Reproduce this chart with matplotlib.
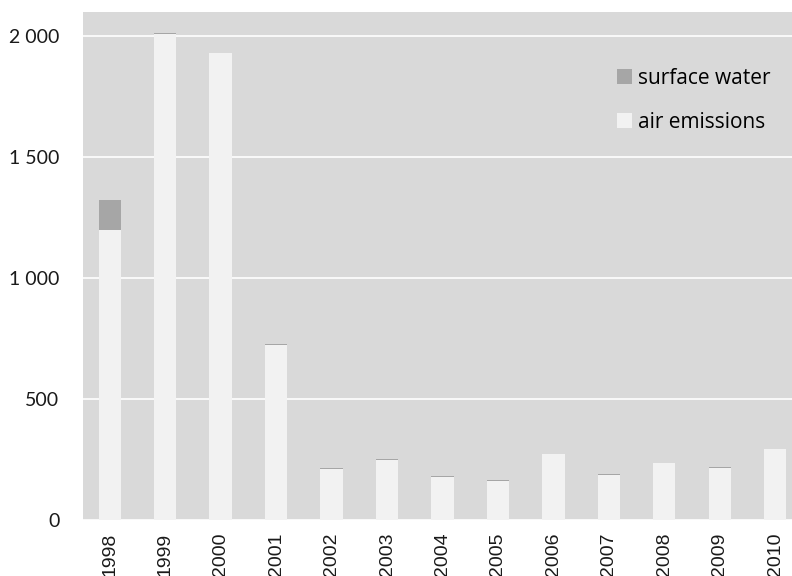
import matplotlib
matplotlib.use("Agg")
import matplotlib.pyplot as plt
from matplotlib.ticker import FuncFormatter
import numpy as np

# data
years = ['1998', '1999', '2000', '2001', '2002', '2003', '2004',
         '2005', '2006', '2007', '2008', '2009', '2010']
air_emissions = [1200, 2008, 1930, 722, 210, 250, 177, 160, 273, 186, 236, 215, 293]
surface_water = [122, 4, 0, 6, 4, 3, 4, 4, 0, 4, 0, 4, 0]

bg = '#d9d9d9'
air_col = '#f2f2f2'
water_col = '#a6a6a6'

fig = plt.figure(figsize=(7.92, 5.76), dpi=100)
ax = fig.add_axes([83 / 792, 1 - 520 / 576, 1 - 83 / 792, (520 - 12) / 576])
ax.set_facecolor(bg)

x = np.arange(len(years))
ax.bar(x, air_emissions, width=0.4, color=air_col, label='air emissions', zorder=2)
ax.bar(x, surface_water, width=0.4, bottom=air_emissions, color=water_col,
       label='surface water', zorder=2)

ax.set_xlim(-0.48, 12.3)
ax.set_ylim(0, 2100)
ax.set_yticks([0, 500, 1000, 1500, 2000])
ax.yaxis.set_major_formatter(FuncFormatter(lambda v, p: f'{int(v):,}'.replace(',', ' ')))
ax.grid(axis='y', color='white', linewidth=1.2, zorder=1)
ax.set_axisbelow(True)

for s in ax.spines.values():
    s.set_visible(False)
ax.tick_params(length=0)
ax.tick_params(axis='y', pad=17, labelsize=14, labelcolor='#1a1a1a')
for t in ax.get_yticklabels():
    t.set_family('Lato')

ax.set_xticks(x)
ax.set_xticklabels(years, rotation=90, fontsize=14, family='Liberation Sans',
                   color='#1a1a1a', va='top')
ax.tick_params(axis='x', pad=9)

handles, labels = ax.get_legend_handles_labels()
ax.legend(handles[::-1], labels[::-1], loc='upper left',
          bbox_to_anchor=(617 / 792, 1 - 68 / 576), bbox_transform=fig.transFigure,
          frameon=False, prop={'family': 'Open Sans', 'size': 15},
          handlelength=0.7, handleheight=0.7, handletextpad=0.3,
          labelspacing=1.1, borderpad=0, borderaxespad=0)

fig.savefig('out.png', dpi=100, facecolor='white')
